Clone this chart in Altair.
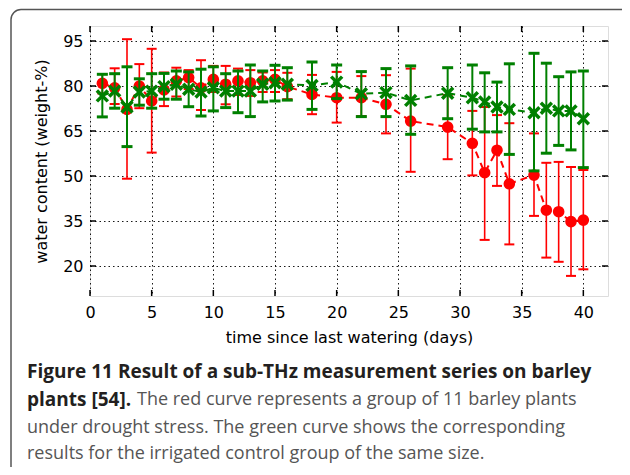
import altair as alt
import pandas as pd

days = [1, 2, 3, 4, 5, 6, 7, 8, 9, 10, 11, 12, 13, 14, 15, 16, 18, 20, 22, 24,
        26, 29, 31, 32, 33, 34, 36, 37, 38, 39, 40]

red_mean = [80.9, 79.4, 72.2, 80.0, 75.0, 78.7, 81.7, 82.8, 79.4, 82.2, 80.6, 81.7,
            81.1, 81.7, 82.2, 79.8, 77.2, 76.1, 76.1, 73.9, 68.3, 66.3, 60.9, 51.1,
            58.6, 47.4, 50.3, 38.6, 38.1, 34.8, 35.3]
red_hi = [84.0, 85.9, 95.6, 87.3, 92.4, 84.5, 86.1, 85.3, 88.6, 86.7, 86.7, 85.8,
          85.3, 84.5, 85.3, 84.4, 83.7, 84.7, 83.3, 83.6, 85.8, 77.0, 71.7, 73.0,
          70.3, 67.6, 64.2, 54.4, 54.7, 53.0, 52.0]
red_lo = [77.5, 74.0, 49.1, 72.6, 57.8, 73.3, 76.5, 79.0, 72.0, 78.0, 73.9, 77.0,
          76.7, 78.0, 78.0, 75.6, 70.6, 67.8, 70.0, 64.2, 51.4, 55.6, 50.2, 28.7,
          46.7, 27.2, 36.7, 22.8, 21.4, 16.7, 18.9]

green_mean = [76.7, 78.3, 73.0, 78.0, 78.3, 79.8, 80.6, 78.9, 78.0, 79.4, 78.3, 78.3,
              78.3, 80.6, 81.1, 80.6, 80.2, 81.3, 77.4, 77.8, 75.2, 77.6, 76.1, 74.7,
              73.0, 72.2, 71.1, 72.6, 71.7, 71.7, 69.1]
green_hi = [83.9, 84.1, 86.4, 82.4, 84.1, 84.2, 85.0, 84.7, 85.6, 86.4, 84.1, 85.0,
            87.0, 85.0, 86.9, 86.1, 88.0, 87.0, 84.8, 85.8, 86.7, 86.1, 87.0, 84.4,
            81.3, 87.4, 90.9, 87.6, 83.1, 84.7, 85.0]
green_lo = [69.7, 72.6, 59.8, 73.6, 72.6, 75.6, 75.6, 73.1, 70.0, 71.7, 72.8, 71.1,
            69.8, 74.7, 75.0, 75.3, 72.2, 75.8, 69.8, 69.8, 63.9, 69.1, 65.6, 64.7,
            64.7, 57.2, 51.7, 57.6, 60.2, 58.7, 52.8]

x_ticks = [0, 5, 10, 15, 20, 25, 30, 35, 40]
y_ticks = [20, 35, 50, 65, 80, 95]

x_title = "time since last watering (days)"
y_title = "water content (weight-%)"

caption_bold = ["Figure 11 Result of a sub-THz measurement series on barley",
                "plants [54]."]
caption_regular = ["The red curve represents a group of 11 barley plants",
                   "under drought stress. The green curve shows the corresponding",
                   "results for the irrigated control group of the same size."]

RED = "#ff0000"
GREEN = "#008000"
W, H = 518, 270
CAP_FONT = "Open Sans"

red = pd.DataFrame({"day": days, "mean": red_mean, "hi": red_hi, "lo": red_lo})
green = pd.DataFrame({"day": days, "mean": green_mean, "hi": green_hi, "lo": green_lo})

xscale = alt.Scale(domain=[0, 42], nice=False, zero=False)
yscale = alt.Scale(domain=[10, 100], nice=False, zero=False)

xaxis = alt.Axis(values=x_ticks, title=x_title, grid=True, ticks=False, domain=False,
                 labelFont="DejaVu Sans", labelFontSize=16, labelColor="black",
                 labelPadding=8, labelFlush=False, labelOverlap=False,
                 titleFont="DejaVu Sans", titleFontSize=16, titleFontWeight="normal",
                 titleColor="black", titleY=41, titleBaseline="middle",
                 gridColor="black", gridDash=[1.5, 3], gridWidth=1, gridOpacity=0.9)
yaxis = alt.Axis(values=y_ticks, title=y_title, grid=True, ticks=False, domain=False,
                 labelFont="DejaVu Sans", labelFontSize=16, labelColor="black",
                 labelPadding=7, labelFlush=False, labelOverlap=False,
                 titleFont="DejaVu Sans", titleFontSize=16, titleFontWeight="normal",
                 titleColor="black", titleX=-49, titleY=H / 2, titleAngle=270,
                 titleAlign="center", titleBaseline="middle",
                 gridColor="black", gridDash=[1.5, 3], gridWidth=1, gridOpacity=0.9)


def X(f):
    return alt.X(f, type="quantitative", scale=xscale, axis=xaxis)


def Y(f):
    return alt.Y(f, type="quantitative", scale=yscale, axis=yaxis)


layers = []

# outer rounded frame
frame = alt.Chart(pd.DataFrame({"a": [0]})).mark_rect(
    fill=None, stroke="#555555", strokeWidth=1.5, cornerRadius=10
).encode(x=alt.value(-79), x2=alt.value(620), y=alt.value(-16.5), y2=alt.value(480))
layers.append(frame)

# inward ticks
xt = pd.DataFrame({"t": x_ticks})
yt = pd.DataFrame({"t": y_ticks})
layers.append(alt.Chart(xt).mark_rule(color="black", strokeWidth=1.5).encode(
    x=X("t"), y=alt.value(H), y2=alt.value(H - 6)))
layers.append(alt.Chart(xt).mark_rule(color="black", strokeWidth=1.5).encode(
    x=X("t"), y=alt.value(0), y2=alt.value(6)))
layers.append(alt.Chart(yt).mark_rule(color="black", strokeWidth=1.5).encode(
    y=Y("t"), x=alt.value(0), x2=alt.value(6)))
layers.append(alt.Chart(yt).mark_rule(color="black", strokeWidth=1.5).encode(
    y=Y("t"), x=alt.value(W), x2=alt.value(W - 6)))


def series(df, color, capw, capt, lw, marker):
    base = alt.Chart(df)
    out = [
        base.mark_line(color=color, strokeWidth=2, strokeDash=[7, 5]).encode(
            x=X("day"), y=Y("mean")),
        base.mark_rule(color=color, strokeWidth=lw).encode(
            x=X("day"), y=Y("lo"), y2="hi:Q"),
        base.mark_tick(color=color, orient="horizontal", size=capw, thickness=capt,
                       opacity=1).encode(x=X("day"), y=Y("hi")),
        base.mark_tick(color=color, orient="horizontal", size=capw, thickness=capt,
                       opacity=1).encode(x=X("day"), y=Y("lo")),
        marker.encode(x=X("day"), y=Y("mean")),
    ]
    return out


layers += series(red, RED, 10, 2, 1.6,
                 alt.Chart(red).mark_point(shape="circle", filled=True, size=135,
                                           color=RED, opacity=1))
layers += series(green, GREEN, 11, 3, 2,
                 alt.Chart(green).mark_point(shape="M-1,-1L1,1M-1,1L1,-1", filled=False,
                                             size=120, color=GREEN, strokeWidth=3.5,
                                             opacity=1))

# caption
cap_y = [346, 374, 402, 428]


def cap(text, x, y, bold):
    if bold:
        kw = dict(font=CAP_FONT, fontSize=19, align="left", baseline="middle",
                  fontWeight="bold", color="#231f20")
    else:
        kw = dict(font=CAP_FONT, fontSize=18, align="left", baseline="middle",
                  color="#555555")
    return alt.Chart(pd.DataFrame({"t": [text]})).mark_text(**kw).encode(
        text="t:N", x=alt.value(x), y=alt.value(y))


layers.append(cap(caption_bold[0], -63, cap_y[0], True))
layers.append(cap(caption_bold[1], -63, cap_y[1], True))
layers.append(cap(caption_regular[0], 47, cap_y[1], False))
layers.append(cap(caption_regular[1], -63, cap_y[2], False))
layers.append(cap(caption_regular[2], -63, cap_y[3], False))

chart = alt.layer(*layers).properties(
    width=W, height=H,
    autosize=alt.AutoSizeParams(type="none"),
    padding={"left": 82, "top": 18, "right": 14, "bottom": 171},
).configure_view(stroke="black", strokeWidth=2).configure(background="white")

chart.save("out.html", embed_options={"renderer": "svg", "actions": False})
